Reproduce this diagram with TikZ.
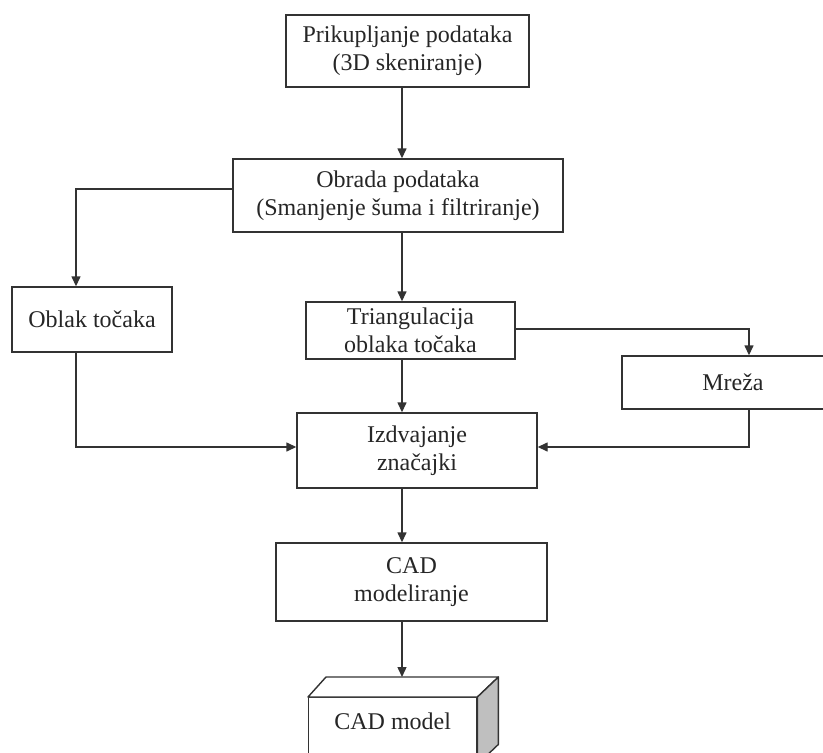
\documentclass[tikz,border=0pt]{standalone}
\usepackage{fontspec}
\setmainfont{Liberation Serif}
\usetikzlibrary{arrows.meta,calc}
\begin{document}
\begin{tikzpicture}[x=1pt,y=-1pt,
  box/.style={draw=black!80, line width=1.4pt, fill=white, inner sep=0pt, align=center,
    font=\fontsize{24}{28}\selectfont, text=black!85},
  conn/.style={draw=black!80, line width=1.4pt, -{Triangle[length=10pt,width=9pt]}},
  plain/.style={draw=black!80, line width=1.4pt}]
\clip (0,0) rectangle (823,753);
\fill[white] (0,0) rectangle (823,753);
\coordinate (spine) at (402,0);
\coordinate (lx) at (76,0);
\coordinate (rx) at (749,0);
\coordinate (yb) at (0,447);
% boxes
\node[box, minimum width=243pt, minimum height=72pt] (b1) at (407.5,51) {Prikupljanje podataka\\(3D skeniranje)};
\node[box, minimum width=330pt, minimum height=73pt] (b2) at (398,195.5) {Obrada podataka\\(Smanjenje šuma i filtriranje)};
\node[box, minimum width=160pt, minimum height=65pt] (b3) at (92,319.5) {Oblak točaka};
\node[box, minimum width=209pt, minimum height=57pt] (b4) at (410.5,330.5) {Triangulacija\\oblaka točaka};
\node[box, minimum width=202pt, minimum height=53pt] (b5) at (723,382.5) {\hspace*{20pt}Mreža};
\node[box, minimum width=240pt, minimum height=75pt] (b6) at (417,450.5) {Izdvajanje\\značajki};
\node[box, minimum width=271pt, minimum height=78pt] (b7) at (411.5,582) {CAD\\modeliranje};
% 3D box
\node[box, minimum width=168pt, minimum height=66pt, anchor=north west] (b8) at (308,697) {};
\coordinate (b8tl) at ($(b8.north west)+(18,-20)$);
\coordinate (b8tr) at ($(b8.north east)+(21,-20)$);
\coordinate (b8br) at ($(b8.south east)+(21,-20)$);
\draw[plain, fill=white, line join=round] (b8.north west) -- (b8tl) -- (b8tr) -- (b8.north east) -- cycle;
\draw[plain, fill=black!25, line join=round] (b8.north east) -- (b8tr) -- (b8br) -- (b8.south east) -- cycle;
\node[font=\fontsize{24}{28}\selectfont, text=black!85] (b8t) at ($(b8.north)+(0,24)$) {CAD model};
% connectors
\draw[conn] (b1.south -| spine) -- (b2.north -| spine);
\draw[conn] (b2.west |- 0,189) -- (lx |- 0,189) -- (b3.north -| lx);
\draw[conn] (b2.south -| spine) -- (b4.north -| spine);
\draw[conn] (b4.east |- 0,329) -- (rx |- 0,329) -- (b5.north -| rx);
\draw[conn] (b4.south -| spine) -- (b6.north -| spine);
\draw[conn] (b3.south -| lx) -- (lx |- yb) -- (b6.west |- yb);
\draw[conn] (b5.south -| rx) -- (rx |- yb) -- (b6.east |- yb);
\draw[conn] (b6.south -| spine) -- (b7.north -| spine);
\draw[conn] (b7.south -| spine) -- (b8tl -| spine);
\end{tikzpicture}
\end{document}
